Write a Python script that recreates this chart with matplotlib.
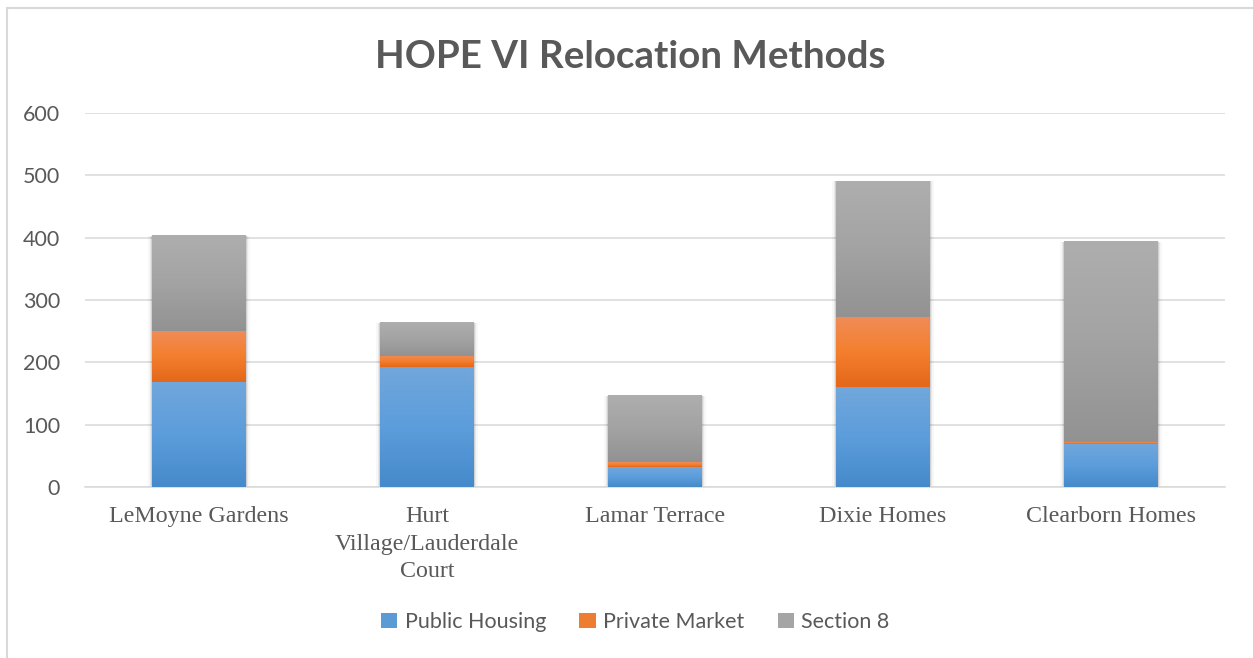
import numpy as np
import matplotlib
matplotlib.use('Agg')
import matplotlib.pyplot as plt
from matplotlib.patches import Rectangle, Patch
from matplotlib.colors import LinearSegmentedColormap

categories = ['LeMoyne Gardens', 'Hurt\nVillage/Lauderdale\nCourt', 'Lamar Terrace',
              'Dixie Homes', 'Clearborn Homes']
public_housing = [168, 192, 32, 160, 69]
private_market = [82, 18, 8, 113, 3]
section_8 = [153, 53, 106, 217, 321]
series_names = ['Public Housing', 'Private Market', 'Section 8']

# top / mid / bottom colours of the bar gradients
grads = {
    'Public Housing': ['#71A7DC', '#5C9DDB', '#468ACB'],
    'Private Market': ['#F08C58', '#F47F2E', '#E4671A'],
    'Section 8': ['#AEAEAE', '#A3A3A3', '#929292'],
}
solid = {'Public Housing': '#5B9BD5', 'Private Market': '#ED7D31', 'Section 8': '#A5A5A5'}
text_col = '#595959'

fig = plt.figure(figsize=(12.53, 6.58), dpi=100)
fig.patches.append(Rectangle((7 / 1253, -0.1), 1.2, 1.1 - 8 / 658, transform=fig.transFigure,
                             fill=False, edgecolor='#D9D9D9', linewidth=1.5))
ax = fig.add_axes([85 / 1253, 1 - 487 / 658, 1140 / 1253, 374 / 658])

x = np.arange(len(categories))
bottom = np.zeros(len(categories))
rects = []
for name, vals in zip(series_names, [public_housing, private_market, section_8]):
    bars = ax.bar(x, vals, width=0.41, bottom=bottom, color=solid[name], zorder=3,
                  linewidth=0)
    rects.append((name, bars))
    bottom += np.array(vals)

# shadow + gradient over each bar
grad = np.linspace(0, 1, 256).reshape(-1, 1)
for name, bars in rects:
    cmap = LinearSegmentedColormap.from_list(name, grads[name][::-1])
    for r in bars:
        x0, y0, w, h = r.get_x(), r.get_y(), r.get_width(), r.get_height()
        ax.imshow(grad, cmap=cmap, origin='lower', aspect='auto',
                  extent=[x0, x0 + w, y0, y0 + h], zorder=4, interpolation='bilinear')
for i, tot in enumerate(bottom):
    for k, a in enumerate([0.10, 0.06, 0.03]):
        d = 0.006 * (k + 1)
        ax.add_patch(Rectangle((x[i] - 0.205 - d, -2 * (k + 1)), 0.41 + 2 * d, tot + 2 * (k + 1) + d * 20,
                               facecolor='black', alpha=a, linewidth=0, zorder=2))

ax.set_xlim(-0.5, len(categories) - 0.5)
ax.set_ylim(0, 600)
ax.set_yticks(range(0, 601, 100))
ax.yaxis.grid(True, color='#D9D9D9', linewidth=1.1, zorder=0)
ax.set_axisbelow(True)
for s in ['top', 'right', 'left']:
    ax.spines[s].set_visible(False)
ax.spines['bottom'].set_color('#D9D9D9')
ax.spines['bottom'].set_linewidth(1.1)
ax.tick_params(axis='both', length=0, colors=text_col)
ax.tick_params(axis='y', pad=18)
ax.tick_params(axis='x', pad=14)
ax.set_xticks(x)
ax.set_xticklabels(categories, family='Liberation Serif', fontsize=17.3, color=text_col,
                   linespacing=1.38)
for t in ax.get_yticklabels():
    t.set_family('Lato')
    t.set_fontsize(15.5)

fig.text(0.503, 1 - 57 / 658, 'HOPE VI Relocation Methods', ha='center', va='center',
         family='Lato', fontweight='bold', fontsize=27.7, color=text_col)

handles = [Patch(facecolor=solid[n], edgecolor='none') for n in series_names]
fig.legend(handles, series_names, loc='center', bbox_to_anchor=(0.507, 1 - 622 / 658),
           ncol=3, frameon=False, prop={'family': 'Lato', 'size': 15.5}, labelcolor=text_col,
           handlelength=0.75, handleheight=0.75, handletextpad=0.35, columnspacing=1.55)

fig.savefig('out.png', dpi=100)
